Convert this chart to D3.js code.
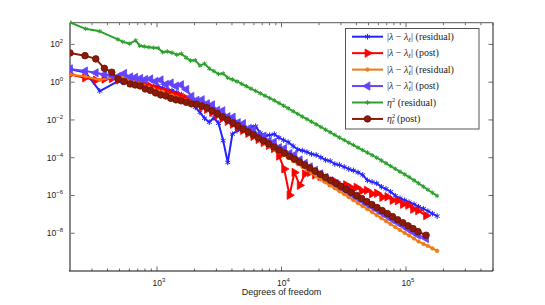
<!DOCTYPE html>
<html>
<head>
<meta charset="utf-8">
<script src="https://cdn.jsdelivr.net/npm/d3@7"></script>
<style>
  body { margin: 0; background: #fff; }
  svg { display: block; }
</style>
</head>
<body>
<script>
const width = 545;
const height = 305;

// degrees of freedom of the two mesh sequences
const dofResidual = [200, 267, 347, 484, 531, 604, 674, 726, 790, 860, 940, 1020, 1110, 1210, 1320, 1440,
  1570, 1710, 1860, 2030, 2210, 2410, 2630, 2860, 3120, 3400, 3700, 4030, 4390, 4790, 5220, 5690, 6200,
  6760, 7370, 8030, 8750, 9540, 10400, 11300, 12400, 13500, 14700, 16000, 17400, 19000, 20700, 22600,
  24600, 26800, 29200, 31900, 34700, 37800, 41200, 44900, 49000, 53400, 58200, 63400, 69100, 75300,
  82100, 89500, 97600, 106000, 116000, 126000, 138000, 150000, 163000, 178000];
const dofPost = [200, 264, 322, 378, 433, 487, 545, 609, 668, 733, 804, 884, 973, 1070, 1180, 1290, 1420,
  1560, 1720, 1890, 2080, 2290, 2520, 2770, 3050, 3350, 3690, 4060, 4460, 4910, 5400, 5940, 6530, 7180,
  7900, 8690, 9560, 10500, 11600, 12700, 14000, 15400, 16900, 18600, 20500, 22600, 24800, 27300, 30000,
  33000, 36300, 40000, 44000, 48400, 53200, 58500, 64400, 70800, 77900, 85700, 94300, 104000, 114000,
  125000, 145000];

const errResidual = [4.9, 3.2, 0.34, 1.09, 1.02, 0.964, 0.855, 0.804, 0.713, 0.67, 0.594, 0.631, 0.495,
  0.413, 0.366, 0.287, 0.225, 0.139, 0.0757, 0.0466, 0.0254, 0.0123, 0.00757, 0.0131, 0.0067, 8.04e-4,
  5.58e-5, 1.77e-3, 2.7e-3, 3.24e-3, 3.66e-3, 4.39e-3, 4.66e-3, 2.0e-3, 1.47e-3, 1.57e-3, 1.77e-3,
  1.16e-3, 8.55e-4, 6.7e-4, 4.13e-4, 2.7e-4, 2.39e-4, 2.0e-4, 1.57e-4, 1.39e-4, 1.03e-4, 7.57e-5,
  6.7e-5, 4.66e-5, 4.13e-5, 3.24e-5, 2.54e-5, 2.12e-5, 1.66e-5, 1.23e-5, 6.31e-6, 5.26e-6, 4.39e-6,
  2.87e-6, 2.25e-6, 1.57e-6, 9.64e-7, 7.13e-7, 5.58e-7, 4.39e-7, 3.44e-7, 2.54e-7, 2.0e-7, 1.47e-7,
  1.09e-7, 8.04e-8];
const errPost = [2.54, 1.7, 1.27, 1.47, 1.57, 1.31, 1.23, 0.964, 0.908, 0.804, 0.67, 0.594, 0.466, 0.366,
  0.324, 0.254, 0.212, 0.177, 0.139, 0.109, 0.0757, 0.0466, 0.0366, 0.0254, 0.0177, 0.0123, 0.00855,
  0.00594, 0.00413, 0.0028, 0.00195, 0.00135, 9.3e-4, 6.47e-4, 4.5e-4, 3.08e-4, 1.23e-4, 2.54e-5,
  1.03e-6, 1.66e-5, 3.44e-6, 1.39e-5, 1.66e-5, 1.23e-5, 1.03e-5, 7.57e-6, 4.95e-6, 5.26e-6, 3.24e-6,
  3.66e-6, 2.54e-6, 2.7e-6, 1.77e-6, 1.88e-6, 1.23e-6, 1.31e-6, 8.04e-7, 8.55e-7, 5.58e-7, 5.26e-7,
  3.44e-7, 3.05e-7, 1.88e-7, 1.57e-7, 8.55e-8];
const errStarResidual = [2.54, 2.0, 1.31, 2.0, 1.66, 1.31, 1.02, 0.855, 0.631, 0.526, 0.439, 0.344, 0.305,
  0.225, 0.2, 0.157, 0.131, 0.109, 0.0908, 0.0804, 0.0713, 0.0495, 0.0366, 0.0254, 0.0177, 0.0131,
  0.00908, 0.00631, 0.00466, 0.00324, 0.00239, 0.00166, 0.00116, 8.04e-4, 5.58e-4, 3.88e-4, 2.7e-4,
  2.0e-4, 1.39e-4, 9.64e-5, 6.7e-5, 4.66e-5, 3.24e-5, 2.25e-5, 1.57e-5, 1.03e-5, 7.13e-6, 4.95e-6,
  3.44e-6, 2.39e-6, 1.66e-6, 1.16e-6, 8.04e-7, 5.58e-7, 3.88e-7, 2.7e-7, 1.88e-7, 1.31e-7, 9.08e-8,
  6.31e-8, 4.39e-8, 3.05e-8, 2.12e-8, 1.47e-8, 1.03e-8, 7.57e-9, 5.26e-9, 3.66e-9, 2.7e-9, 2.12e-9,
  1.57e-9, 1.16e-9];
const errStarPost = [5.07, 3.88, 3.12, 2.54, 2.25, 2.0, 2.87, 1.88, 1.77, 1.57, 1.39, 1.47, 1.09, 1.3,
  0.757, 0.9, 0.616, 0.72, 0.413, 0.177, 0.109, 0.116, 0.0713, 0.0631, 0.0324, 0.0305, 0.0147, 0.0139,
  0.00713, 0.00631, 0.00324, 0.00305, 0.00157, 0.00139, 7.57e-4, 6.7e-4, 3.44e-4, 3.05e-4, 1.66e-4,
  1.39e-4, 7.57e-5, 4.95e-5, 3.24e-5, 2.12e-5, 1.39e-5, 9.08e-6, 5.94e-6, 4.13e-6, 2.7e-6, 1.88e-6,
  1.23e-6, 8.04e-7, 5.58e-7, 3.66e-7, 2.54e-7, 1.77e-7, 1.16e-7, 8.04e-8, 5.26e-8, 3.66e-8, 2.54e-8,
  1.66e-8, 1.16e-8, 8.04e-9, 5.26e-9];
const etaResidual = [1440, 670, 495, 185, 139, 109, 162, 85.4, 77.5, 71.2, 67.0, 64.7, 38.9, 42.3, 36.6,
  28.7, 32.4, 20.0, 13.9, 14.4, 7.57, 9.64, 5.26, 3.88, 2.7, 2.87, 1.7, 1.39, 1.09, 0.809, 0.608, 0.455,
  0.344, 0.257, 0.192, 0.144, 0.108, 0.0785, 0.0566, 0.0413, 0.0287, 0.0209, 0.0151, 0.011, 0.00804,
  0.00579, 0.00423, 0.00305, 0.00222, 0.00163, 0.00117, 8.55e-4, 6.31e-4, 4.66e-4, 3.44e-4, 2.51e-4,
  1.85e-4, 1.35e-4, 1.0e-4, 7.13e-5, 5.07e-5, 3.61e-5, 2.58e-5, 1.83e-5, 1.31e-5, 9.42e-6, 6.31e-6,
  4.39e-6, 2.94e-6, 2.02e-6, 1.4e-6, 9.53e-7];
const etaPost = [35.3, 25.4, 17.1, 5.39, 3.36, 1.47, 1.09, 0.804, 0.713, 0.631, 0.439, 0.366, 0.27, 0.212,
  0.188, 0.139, 0.116, 0.103, 0.0855, 0.0713, 0.067, 0.0558, 0.0444, 0.0308, 0.0215, 0.0147, 0.0103,
  0.00703, 0.00489, 0.00336, 0.00233, 0.00163, 0.00111, 7.75e-4, 5.4e-4, 3.7e-4, 2.54e-4, 1.77e-4,
  1.2e-4, 8.44e-5, 5.86e-5, 4.03e-5, 2.84e-5, 1.95e-5, 1.34e-5, 9.08e-6, 6.38e-6, 4.39e-6, 3.05e-6,
  2.09e-6, 1.46e-6, 1.0e-6, 6.95e-7, 4.78e-7, 3.32e-7, 2.31e-7, 1.58e-7, 1.1e-7, 7.57e-8, 5.2e-8,
  3.61e-8, 2.48e-8, 1.75e-8, 1.21e-8, 7.85e-9];

const xTicks = [1e3, 1e4, 1e5];
const yTicks = [1e-8, 1e-6, 1e-4, 1e-2, 1e0, 1e2];

const series = [
  { dof: dofResidual, val: errResidual, color: "#2424ff", marker: "star" },
  { dof: dofPost, val: errPost, color: "#ff0000", marker: "right" },
  { dof: dofResidual, val: errStarResidual, color: "#f07a14", marker: "dot" },
  { dof: dofPost, val: errStarPost, color: "#6244ff", marker: "left" },
  { dof: dofResidual, val: etaResidual, color: "#2ca02c", marker: "plus" },
  { dof: dofPost, val: etaPost, color: "#8b1a08", marker: "circle" }
];

const margin = { left: 70, right: 52, top: 22.7, bottom: 34 };

const x = d3.scaleLog().domain([200, 5e5]).range([margin.left, width - margin.right]);
const y = d3.scaleLog().domain([1e-10, Math.pow(10, 3.15)]).range([height - margin.bottom, margin.top]);

const svg = d3.select("body").append("svg")
    .attr("width", width)
    .attr("height", height);

svg.append("defs").append("clipPath").attr("id", "plot")
  .append("rect")
    .attr("x", x.range()[0]).attr("y", y.range()[1] - 4)
    .attr("width", x.range()[1] - x.range()[0])
    .attr("height", y.range()[0] - y.range()[1] + 4);

// minor ticks on x
const xMinor = [];
for (let e = 2; e <= 5; e++) {
  for (let m = 2; m <= 9; m++) {
    const v = m * Math.pow(10, e);
    if (v >= 200 && v <= 5e5) xMinor.push(v);
  }
}

const x0 = x.range()[0], x1 = x.range()[1];
const y0 = y.range()[0], y1 = y.range()[1];

const ticks = svg.append("g").attr("stroke", "#444").attr("stroke-width", 0.8);
xMinor.forEach(v => {
  ticks.append("line").attr("x1", x(v)).attr("x2", x(v)).attr("y1", y0).attr("y2", y0 - 2.5);
  ticks.append("line").attr("x1", x(v)).attr("x2", x(v)).attr("y1", y1).attr("y2", y1 + 2.5);
});
xTicks.forEach(v => {
  ticks.append("line").attr("x1", x(v)).attr("x2", x(v)).attr("y1", y0).attr("y2", y0 - 4.5);
  ticks.append("line").attr("x1", x(v)).attr("x2", x(v)).attr("y1", y1).attr("y2", y1 + 4.5);
});
yTicks.forEach(v => {
  ticks.append("line").attr("x1", x0).attr("x2", x0 + 4.5).attr("y1", y(v)).attr("y2", y(v));
  ticks.append("line").attr("x1", x1).attr("x2", x1 - 4.5).attr("y1", y(v)).attr("y2", y(v));
});

// frame
svg.append("line").attr("x1", x0).attr("x2", x1).attr("y1", y1).attr("y2", y1)
  .attr("stroke", "#777").attr("stroke-width", 1.2);
svg.append("line").attr("x1", x1).attr("x2", x1).attr("y1", y1).attr("y2", y0)
  .attr("stroke", "#444").attr("stroke-width", 1.2);
svg.append("line").attr("x1", x0).attr("x2", x0).attr("y1", y1).attr("y2", y0)
  .attr("stroke", "#888").attr("stroke-width", 2);
svg.append("line").attr("x1", x0 - 1).attr("x2", x1).attr("y1", y0).attr("y2", y0)
  .attr("stroke", "#111").attr("stroke-width", 1.2);

// tick labels
const tickFont = "'Liberation Sans', Arial, sans-serif";
function expLabel(g, v, px, py, anchor) {
  const t = g.append("text")
    .attr("x", px).attr("y", py)
    .attr("text-anchor", anchor)
    .attr("font-family", tickFont)
    .attr("font-size", 8.5)
    .attr("fill", "#222");
  t.append("tspan").text("10");
  t.append("tspan").attr("dy", -4).attr("font-size", 6).text(String(Math.round(Math.log10(v))).replace("-", "\u2212"));
}
const labels = svg.append("g");
yTicks.forEach(v => expLabel(labels, v, 63, y(v) + 3, "end"));
xTicks.forEach(v => expLabel(labels, v, x(v) + 2, 286, "middle"));

svg.append("text")
    .attr("x", (x0 + x1) / 2).attr("y", 295)
    .attr("text-anchor", "middle")
    .attr("font-family", tickFont)
    .attr("font-size", 9)
    .attr("fill", "#222")
    .text("Degrees of freedom");

// markers
function drawMarker(g, m, color, cx, cy) {
  if (m === "star") {
    g.append("path").attr("d", d3.symbol(d3.symbolAsterisk, 22)())
      .attr("transform", `translate(${cx},${cy})`)
      .attr("fill", "none").attr("stroke", color).attr("stroke-width", 1);
  } else if (m === "plus") {
    g.append("path").attr("d", d3.symbol(d3.symbolAsterisk, 14)())
      .attr("transform", `translate(${cx},${cy})`)
      .attr("fill", "none").attr("stroke", color).attr("stroke-width", 1);
  } else if (m === "right" || m === "left") {
    g.append("path").attr("d", d3.symbol(d3.symbolTriangle, 30)())
      .attr("transform", `translate(${cx},${cy}) rotate(${m === "right" ? 90 : -90})`)
      .attr("fill", color).attr("stroke", color).attr("stroke-width", 0.8);
  } else if (m === "dot") {
    g.append("circle").attr("cx", cx).attr("cy", cy).attr("r", 1.8)
      .attr("fill", color).attr("stroke", color).attr("stroke-width", 0.6);
  } else if (m === "circle") {
    g.append("circle").attr("cx", cx).attr("cy", cy).attr("r", 3.3)
      .attr("fill", color).attr("stroke", "#6a1204").attr("stroke-width", 0.8);
  }
}

const line = d3.line().x(d => x(d[0])).y(d => y(d[1]));
const plot = svg.append("g").attr("clip-path", "url(#plot)");

series.forEach(s => {
  const pts = s.dof.map((d, i) => [d, s.val[i]]);
  const g = plot.append("g");
  g.append("path")
    .attr("d", line(pts))
    .attr("fill", "none")
    .attr("stroke", s.color)
    .attr("stroke-width", 2)
    .attr("stroke-linejoin", "round");
  pts.forEach(p => drawMarker(g, s.marker, s.color, x(p[0]), y(p[1])));
});

// legend
const legend = svg.append("g");
legend.append("rect")
    .attr("x", 345.5).attr("y", 28.5).attr("width", 133.5).attr("height", 100.5)
    .attr("fill", "#fff").attr("stroke", "#555").attr("stroke-width", 1);

const serif = "'Liberation Serif', 'DejaVu Serif', serif";
const legendRows = [
  { lam: true, star: false, tail: " (residual)" },
  { lam: true, star: false, tail: " (post)" },
  { lam: true, star: true, tail: " (residual)" },
  { lam: true, star: true, tail: " (post)" },
  { lam: false, sub: false, tail: " (residual)" },
  { lam: false, sub: true, tail: " (post)" }
];

series.forEach((s, i) => {
  const ly = 36.7 + i * 16.45;
  legend.append("line")
    .attr("x1", 352).attr("x2", 383).attr("y1", ly).attr("y2", ly)
    .attr("stroke", s.color).attr("stroke-width", 2);
  drawMarker(legend, s.marker, s.color, 367.5, ly);

  const r = legendRows[i];
  const t = legend.append("text")
    .attr("x", 387).attr("y", ly + 3.3)
    .attr("font-family", serif)
    .attr("font-size", 10)
    .attr("fill", "#222");
  if (r.lam) {
    t.append("tspan").text("|");
    t.append("tspan").attr("font-style", "italic").text("\u03bb");
    t.append("tspan").text(" \u2212 ");
    t.append("tspan").attr("font-style", "italic").text("\u03bb");
    if (r.star) {
      t.append("tspan").attr("font-size", 6.5).attr("dy", -4).text("*");
      t.append("tspan").attr("font-size", 6.5).attr("font-style", "italic").attr("dx", -3.2).attr("dy", 6).text("\u2113");
    } else {
      t.append("tspan").attr("font-size", 6.5).attr("font-style", "italic").attr("dy", 2).text("\u2113");
    }
    t.append("tspan").attr("dy", -2).text("|" + r.tail);
  } else {
    t.append("tspan").attr("font-style", "italic").text("\u03b7");
    t.append("tspan").attr("font-size", 6.5).attr("dy", -4).text("2");
    if (r.sub) {
      t.append("tspan").attr("font-size", 6.5).attr("font-style", "italic").attr("dx", -3.5).attr("dy", 6).text("\u2113");
      t.append("tspan").attr("dy", -2).text(r.tail);
    } else {
      t.append("tspan").attr("dy", 4).text(r.tail);
    }
  }
});
</script>
</body>
</html>
